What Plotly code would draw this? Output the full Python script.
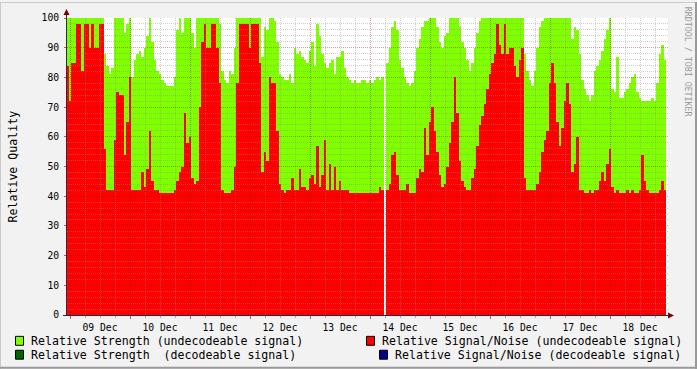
import plotly.graph_objects as go
import pandas as pd

# ---------------- data (hourly samples, first sample 08 Dec 23:00) ----------------
hours = pd.date_range("2012-12-08 23:00", periods=240, freq="h")

strength_undecodeable = [
    100, 100, 100, 100, 100, 100, 100, 100, 100, 100,
    100, 100, 100, 100, 100, 88, 84, 81, 83, 100,
    100, 100, 100, 95, 98, 100, 80, 86, 88, 89,
    87, 90, 94, 100, 92, 86, 82, 81, 79, 78,
    77, 77, 77, 80, 96, 100, 95, 100, 100, 100,
    95, 90, 100, 100, 100, 100, 100, 100, 100, 100,
    100, 98, 82, 79, 78, 82, 81, 90, 100, 100,
    100, 100, 100, 100, 100, 100, 100, 100, 87, 97,
    96, 100, 100, 99, 92, 81, 80, 79, 79, 81,
    78, 90, 88, 89, 87, 86, 85, 89, 92, 84,
    98, 94, 88, 85, 83, 85, 86, 81, 87, 87,
    89, 83, 80, 79, 78, 79, 78, 78, 79, 79,
    78, 79, 78, 79, 80, 79, 80, None, 85, 90,
    97, 99, 96, 86, 83, 80, 78, 77, 78, 82,
    90, 93, 97, 99, 99, 100, 100, 100, 97, 92,
    90, 94, 95, 100, 100, 100, 100, 97, 92, 90,
    86, 82, 85, 90, 95, 99, 100, 100, 100, 100,
    100, 100, 100, 100, 100, 100, 100, 100, 100, 100,
    100, 100, 100, 88, 82, 79, 77, 82, 90, 97,
    99, 100, 100, 100, 100, 100, 100, 100, 100, 100,
    100, 100, 93, 97, 96, 88, 79, 76, 74, 72,
    74, 82, 84, 86, 89, 93, 96, 100, 76, 75,
    87, 73, 73, 75, 76, 78, 80, 81, 75, 73,
    72, 72, 72, 72, 73, 72, 78, 88, 91, 86,
]

snr_undecodeable = [
    84, 72, 85, 85, 98, 98, 82, 98, 98, 90,
    98, 90, 90, 98, 98, 56, 42, 42, 42, 59,
    75, 74, 74, 54, 65, 80, 42, 42, 42, 42,
    48, 43, 49, 62, 45, 42, 42, 41, 41, 41,
    41, 41, 41, 42, 45, 48, 50, 68, 58, 60,
    46, 44, 45, 70, 92, 98, 90, 90, 98, 98,
    90, 78, 42, 41, 41, 41, 42, 50, 78, 98,
    98, 98, 98, 90, 98, 98, 98, 85, 48, 55,
    52, 80, 78, 78, 62, 44, 42, 41, 42, 42,
    46, 42, 42, 49, 43, 43, 42, 46, 47, 44,
    57, 43, 47, 59, 42, 51, 42, 50, 42, 45,
    42, 42, 42, 41, 41, 41, 41, 41, 41, 41,
    41, 41, 41, 41, 41, 43, 42, None, 42, 44,
    54, 55, 47, 42, 42, 42, 44, 41, 41, 41,
    46, 49, 48, 63, 54, 65, 70, 62, 55, 47,
    43, 44, 50, 58, 65, 80, 68, 52, 45, 43,
    42, 42, 46, 49, 57, 64, 67, 71, 76, 81,
    85, 88, 98, 91, 88, 98, 88, 90, 90, 84,
    80, 86, 90, 46, 42, 42, 42, 42, 44, 48,
    55, 59, 62, 78, 85, 78, 65, 57, 63, 72,
    78, 71, 48, 51, 60, 42, 42, 41, 41, 42,
    41, 42, 42, 45, 48, 45, 51, 56, 43, 41,
    42, 41, 41, 41, 42, 41, 42, 41, 41, 42,
    54, 45, 42, 41, 41, 41, 41, 42, 45, 42,
]

series_names = [
    "Relative Strength (undecodeable signal)",
    "Relative Signal/Noise (undecodeable signal)",
    "Relative Strength\u00a0 (decodeable signal)",
    "Relative Signal/Noise (decodeable signal)",
]
series_colors = ["#80FF00", "#FF0000", "#006400", "#00008C"]
y_title = "Relative Quality"
watermark = "RRDTOOL / TOBI OETIKER"

x_start, x_end = "2012-12-08 22:48", "2012-12-18 23:12"
midnight0, noon0 = "2012-12-09 00:00", "2012-12-09 12:00"

# ---------------- geometry helpers (pixel -> paper) ----------------
W, H = 697, 369
L, R, T, B = 67, 668, 16, 315


def px(x):
    return (x - L) / (R - L)


def py(y):
    return (B - y) / (B - T)


MONO = "DejaVu Sans Mono"
HOUR_MS = 3600000

fig = go.Figure()
fig.add_trace(go.Bar(
    x=hours, y=strength_undecodeable, width=HOUR_MS, name=series_names[0],
    marker=dict(color="rgba(128,255,0,0.999)", line=dict(width=0)),
    showlegend=False, hoverinfo="skip"))
fig.add_trace(go.Bar(
    x=hours, y=snr_undecodeable, width=HOUR_MS, name=series_names[1],
    marker=dict(color="rgba(255,0,0,0.999)", line=dict(width=0)),
    showlegend=False, hoverinfo="skip"))
# empty trace that creates the grid overlay subplot (grid drawn above data, like rrdtool)
fig.add_trace(go.Scatter(x=[], y=[], xaxis="x2", yaxis="y2", showlegend=False,
                         hoverinfo="skip"))

MGRID = "rgba(130,30,30,0.42)"
GRID = "rgba(140,140,140,0.42)"
AXIS = "#2a2a40"

fig.update_layout(
    width=W, height=H,
    margin=dict(l=L, r=W - R, t=T, b=H - B, pad=0),
    paper_bgcolor="#F2F2F2",
    plot_bgcolor="rgba(0,0,0,0)",
    barmode="overlay", bargap=0,
    font=dict(family=MONO, color="black"),
    xaxis=dict(type="date", range=[x_start, x_end], domain=[0, 1], anchor="y",
               showgrid=False, zeroline=False, showline=True, linecolor=AXIS,
               linewidth=1, ticks="", tick0=noon0, dtick=86400000,
               tickformat="%d %b", tickfont=dict(family=MONO, size=9.7, color="black"),
               ticklabelstandoff=3),
    yaxis=dict(range=[0, 100], domain=[0, 1], anchor="x", showgrid=False,
               zeroline=False, showline=True, linecolor=AXIS, linewidth=1,
               ticks="", dtick=10, tickfont=dict(family=MONO, size=9.7, color="black"),
               ticklabelstandoff=5),
    xaxis2=dict(type="date", range=[x_start, x_end], domain=[0, 1], anchor="y2",
                showgrid=True, gridcolor=MGRID, griddash="1px,1px", gridwidth=1,
                tick0=midnight0, dtick=86400000, showticklabels=False,
                ticks="outside", ticklen=3, tickcolor="rgba(200,40,40,0.8)",
                showline=False, zeroline=False,
                minor=dict(tick0=midnight0, dtick=6 * HOUR_MS, showgrid=True,
                           gridcolor=GRID, griddash="1px,1px", gridwidth=1,
                           ticks="outside", ticklen=2,
                           tickcolor="rgba(150,150,150,0.8)")),
    yaxis2=dict(range=[0, 100], domain=[0, 1], anchor="x2", showgrid=True,
                gridcolor=MGRID, griddash="1px,1px", gridwidth=1, dtick=10,
                showticklabels=False, ticks="outside", ticklen=2,
                tickcolor="rgba(200,40,40,0.8)", showline=False, zeroline=False,
                minor=dict(dtick=2, showgrid=True, gridcolor=GRID,
                           griddash="1px,1px", gridwidth=1)),
)

shapes = []
# white canvas behind the data
shapes.append(dict(type="rect", xref="paper", yref="paper", x0=0, x1=1, y0=0, y1=1,
                   fillcolor="white", line=dict(width=0), layer="below"))
# 3D frame of the image
shapes.append(dict(type="rect", xref="paper", yref="paper", x0=px(0), x1=px(W),
                   y0=py(0), y1=py(1), fillcolor="#CBCBCB", line=dict(width=0)))
shapes.append(dict(type="rect", xref="paper", yref="paper", x0=px(0), x1=px(1),
                   y0=py(0), y1=py(H), fillcolor="#CBCBCB", line=dict(width=0)))
shapes.append(dict(type="rect", xref="paper", yref="paper", x0=px(0), x1=px(W),
                   y0=py(H - 2), y1=py(H), fillcolor="#999999", line=dict(width=0)))
shapes.append(dict(type="rect", xref="paper", yref="paper", x0=px(W - 2), x1=px(W),
                   y0=py(0), y1=py(H), fillcolor="#999999", line=dict(width=0)))
# axis arrows
shapes.append(dict(type="line", xref="paper", yref="paper", x0=px(66.5), x1=px(66.5),
                   y0=py(16), y1=py(12), line=dict(color=AXIS, width=1)))
shapes.append(dict(type="path", xref="paper", yref="paper",
                   path=f"M {px(63.5)},{py(13)} L {px(66.5)},{py(7)} L {px(69.5)},{py(13)} Z",
                   fillcolor="#7F0000", line=dict(width=0)))
shapes.append(dict(type="line", xref="paper", yref="paper", x0=px(63), x1=px(668),
                   y0=py(315.5), y1=py(315.5), line=dict(color=AXIS, width=1)))
shapes.append(dict(type="path", xref="paper", yref="paper",
                   path=f"M {px(668)},{py(312.5)} L {px(674)},{py(315.5)} L {px(668)},{py(318.5)} Z",
                   fillcolor="#7F0000", line=dict(width=0)))

# legend boxes
legend_pos = [(15, 341, 29), (366, 341, 380), (15, 355, 29), (379, 355, 393)]
annotations = []
for (bx, cy, tx), name, col in zip(legend_pos, series_names, series_colors):
    shapes.append(dict(type="rect", xref="paper", yref="paper",
                       x0=px(bx + 0.5), x1=px(bx + 8.5), y0=py(cy - 4.5), y1=py(cy + 4.5),
                       fillcolor=col, line=dict(color="black", width=1)))
    annotations.append(dict(xref="paper", yref="paper", x=px(tx), y=py(cy),
                            xanchor="left", yanchor="middle", showarrow=False,
                            text=name, font=dict(family=MONO, size=11.6, color="black")))

annotations.append(dict(xref="paper", yref="paper", x=px(12), y=py(165.5),
                        xanchor="center", yanchor="middle", showarrow=False,
                        text=y_title, textangle=-90,
                        font=dict(family=MONO, size=11.6, color="black")))
annotations.append(dict(xref="paper", yref="paper", x=px(688), y=py(60),
                        xanchor="center", yanchor="middle", showarrow=False,
                        text=watermark, textangle=90,
                        font=dict(family=MONO, size=8.3, color="#9a9a9a")))

fig.update_layout(shapes=shapes, annotations=annotations)

fig.write_html("out.html")
